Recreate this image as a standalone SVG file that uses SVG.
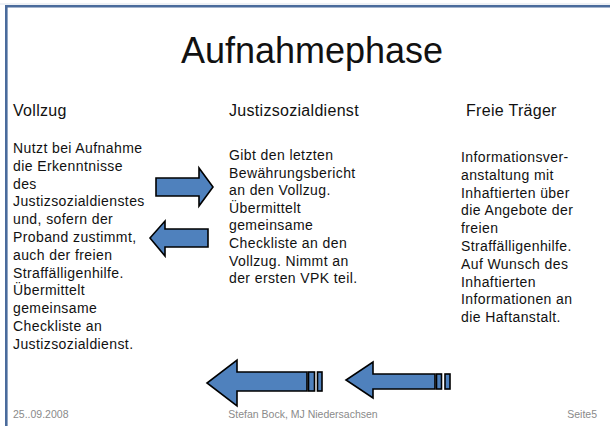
<svg xmlns="http://www.w3.org/2000/svg" width="610" height="426" viewBox="0 0 610 426">
<style>
.t{font-family:"Liberation Sans",Arial,sans-serif;fill:#111}
.title{font-size:36px;letter-spacing:0}
.h{font-size:16px;letter-spacing:0.3px}
.b{font-size:14px;letter-spacing:0.4px}
.f{font-family:"Liberation Sans",Arial,sans-serif;font-size:10.5px;fill:#8a8a8a}
.ar{fill:#4f81bd;stroke:#000;stroke-width:1.6;stroke-linejoin:miter}
</style>
<rect width="610" height="426" fill="#fff"/>
<g id="frame">
<line x1="0" y1="4" x2="610" y2="4" stroke="#dde3ec" stroke-width="1"/>
<path d="M6.3 426 V6.3 H610" fill="none" stroke="#4a6b9c" stroke-width="2.6"/>
</g>
<g id="title"><text class="t title" x="312" y="63" text-anchor="middle">Aufnahmephase</text></g>
<g id="vollzug">
<text class="t h" x="13" y="116">Vollzug</text>
<text class="t b" x="13" y="153">
<tspan x="13">Nutzt bei Aufnahme</tspan>
<tspan x="13" dy="17.8">die Erkenntnisse</tspan>
<tspan x="13" dy="17.8">des</tspan>
<tspan x="13" dy="17.8">Justizsozialdienstes</tspan>
<tspan x="13" dy="17.8">und, sofern der</tspan>
<tspan x="13" dy="17.8">Proband zustimmt,</tspan>
<tspan x="13" dy="17.8">auch der freien</tspan>
<tspan x="13" dy="17.8">Straffälligenhilfe.</tspan>
<tspan x="13" dy="17.8">Übermittelt</tspan>
<tspan x="13" dy="17.8">gemeinsame</tspan>
<tspan x="13" dy="17.8">Checkliste an</tspan>
<tspan x="13" dy="17.8">Justizsozialdienst.</tspan>
</text>
</g>
<g id="justizsozialdienst">
<text class="t h" x="229" y="116">Justizsozialdienst</text>
<text class="t b" x="229" y="160">
<tspan x="229">Gibt den letzten</tspan>
<tspan x="229" dy="17.6">Bewährungsbericht</tspan>
<tspan x="229" dy="17.6">an den Vollzug.</tspan>
<tspan x="229" dy="17.6">Übermittelt</tspan>
<tspan x="229" dy="17.6">gemeinsame</tspan>
<tspan x="229" dy="17.6">Checkliste an den</tspan>
<tspan x="229" dy="17.6">Vollzug. Nimmt an</tspan>
<tspan x="229" dy="17.6">der ersten VPK teil.</tspan>
</text>
</g>
<g id="freie-traeger">
<text class="t h" x="466" y="116">Freie Träger</text>
<text class="t b" x="461" y="162">
<tspan x="461">Informationsver-</tspan>
<tspan x="461" dy="17.8">anstaltung mit</tspan>
<tspan x="461" dy="17.8">Inhaftierten über</tspan>
<tspan x="461" dy="17.8">die Angebote der</tspan>
<tspan x="461" dy="17.8">freien</tspan>
<tspan x="461" dy="17.8">Straffälligenhilfe.</tspan>
<tspan x="461" dy="17.8">Auf Wunsch des</tspan>
<tspan x="461" dy="17.8">Inhaftierten</tspan>
<tspan x="461" dy="17.8">Informationen an</tspan>
<tspan x="461" dy="17.8">die Haftanstalt.</tspan>
</text>
</g>
<g id="connectors">
<polygon class="ar" points="156,178 199,178 199,168 213,187 199,206 199,196 156,196"/>
<polygon class="ar" points="208,229 165,229 165,221 150,238 165,256 165,247 208,247"/>
<polygon class="ar" points="307,372 237,372 237,360 207,383 237,406 237,391 307,391"/>
<rect class="ar" x="308.5" y="372" width="6" height="19"/>
<rect class="ar" x="317.5" y="372" width="4.5" height="19"/>
<polygon class="ar" points="435,374 373,374 373,362 346,380 373,398 373,389 435,389"/>
<rect class="ar" x="436.5" y="374" width="5" height="15"/>
<rect class="ar" x="445" y="374" width="5" height="15"/>
</g>
<g id="footer">
<text class="f" x="13" y="418">25..09.2008</text>
<text class="f" x="303" y="418" text-anchor="middle">Stefan Bock, MJ Niedersachsen</text>
<text class="f" x="597" y="418" text-anchor="end">Seite5</text>
</g>
</svg>
